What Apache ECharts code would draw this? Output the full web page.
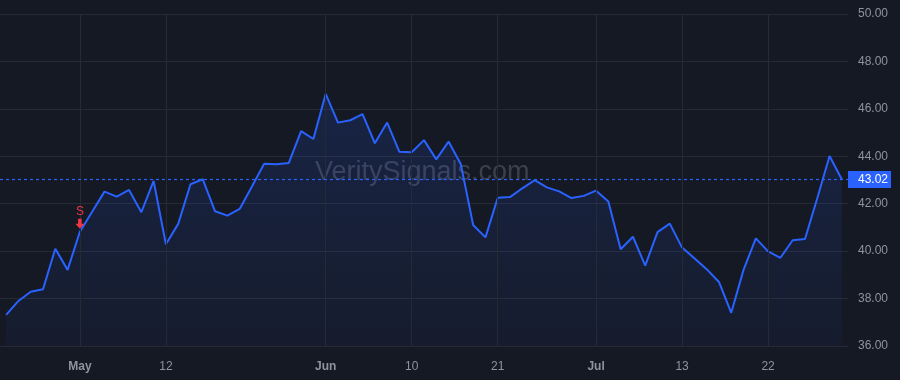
<!DOCTYPE html>
<html>
<head>
<meta charset="utf-8">
<script src="https://cdn.jsdelivr.net/npm/echarts@6/dist/echarts.min.js"></script>
<style>
  html, body {margin: 0; padding: 0; background: #151924;}
  #chart {width: 900px; height: 380px;}
</style>
</head>
<body>
<div id="chart"></div>
<script>
// daily closes
const prices = [
  37.31, 37.90, 38.29, 38.39, 40.10, 39.21, 40.82, 41.66, 42.51, 42.30,
  42.58, 41.64, 42.96, 40.29, 41.15, 42.82, 43.03, 41.68, 41.50, 41.78,
  42.73, 43.69, 43.66, 43.72, 45.06, 44.73, 46.63, 45.42, 45.52, 45.78,
  44.55, 45.42, 44.19, 44.17, 44.68, 43.87, 44.62, 43.66, 41.10, 40.58,
  42.25, 42.28, 42.65, 42.99, 42.69, 42.52, 42.24, 42.33, 42.55, 42.09,
  40.08, 40.61, 39.39, 40.80, 41.16, 40.15, 39.70, 39.24, 38.70, 37.40,
  39.21, 40.54, 39.99, 39.72, 40.46, 40.51, 42.23, 44.01, 43.02
]
const tickIndex = [6, 13, 26, 33, 40, 48, 55, 62]
const tickLabels = ['May', '12', 'Jun', '10', '21', 'Jul', '13', '22']
const monthLabels = ['May', 'Jun', 'Jul']
const lastPrice = 43.02
const signalIndex = 6
const signalText = 'S'

const categories = prices.map((p, i) => i)
const labelAt = {}
tickIndex.forEach((idx, k) => { labelAt[idx] = tickLabels[k] })

const font = '"Liberation Sans", Arial, sans-serif'

const chart = echarts.init(document.getElementById('chart'))
chart.setOption({
  backgroundColor: '#151924',
  animation: false,
  grid: {left: 0, right: 52, top: 14, bottom: 34},
  graphic: [{
    type: 'text',
    left: 315,
    top: 159,
    z: 0,
    style: {
      text: 'VeritySignals.com',
      fill: 'rgba(160,165,180,0.28)',
      font: '27px ' + font
    }
  }],
  xAxis: {
    type: 'category',
    data: categories,
    boundaryGap: true,
    axisLine: {show: false},
    axisTick: {show: false},
    splitLine: {show: false},
    axisLabel: {
      interval: (idx) => labelAt[idx] !== undefined,
      margin: 15,
      formatter: (v, idx) => {
        const t = labelAt[idx]
        if (t === undefined) return ''
        return monthLabels.includes(t) ? '{m|' + t + '}' : '{d|' + t + '}'
      },
      rich: {
        m: {color: '#8f939e', fontSize: 12, fontWeight: 'bold', fontFamily: font},
        d: {color: '#8f939e', fontSize: 12, fontFamily: font}
      }
    }
  },
  yAxis: {
    type: 'value',
    position: 'right',
    min: 36,
    max: 50,
    interval: 2,
    axisLine: {show: false},
    axisTick: {show: false},
    splitLine: {lineStyle: {color: '#262a35', width: 1}},
    axisLabel: {
      margin: 10,
      color: '#8f939e',
      fontSize: 12,
      fontFamily: font,
      formatter: v => v.toFixed(2)
    }
  },
  series: [
    {
      // vertical grid lines at the labelled days
      type: 'line',
      data: [],
      z: 1,
      markLine: {
        silent: true,
        symbol: 'none',
        label: {show: false},
        lineStyle: {color: '#262a35', type: 'solid', width: 1},
        data: tickIndex.map(i => ({xAxis: i}))
      }
    },
    {
      type: 'line',
      data: prices,
      z: 3,
      symbol: 'none',
      lineStyle: {color: '#2962ff', width: 2},
      areaStyle: {
        origin: 'start',
        color: new echarts.graphic.LinearGradient(0, 0, 0, 1, [
          {offset: 0, color: 'rgba(41,98,255,0.22)'},
          {offset: 1, color: 'rgba(41,98,255,0.06)'}
        ])
      },
      markLine: {
        silent: true,
        symbol: 'none',
        lineStyle: {color: '#2962ff', type: [3, 3], width: 1.2, opacity: 1},
        label: {
          position: 'end',
          distance: 0,
          formatter: lastPrice.toFixed(2),
          color: '#ffffff',
          fontSize: 12,
          fontFamily: font,
          backgroundColor: '#2962ff',
          padding: [3, 3, 2, 10]
        },
        data: [{yAxis: lastPrice}]
      },
      markPoint: {
        silent: true,
        data: [{
          coord: [signalIndex, prices[signalIndex]],
          symbol: 'path://M3,0 L7,0 L7,5 L10,5 L5,10 L0,5 L3,5 Z',
          symbolSize: [9, 10],
          symbolOffset: [0, -8],
          itemStyle: {color: '#f23645'},
          label: {
            show: true,
            position: 'top',
            distance: 1,
            formatter: signalText,
            color: '#f23645',
            fontSize: 12,
            fontFamily: font
          }
        }]
      }
    }
  ]
})
</script>
</body>
</html>
